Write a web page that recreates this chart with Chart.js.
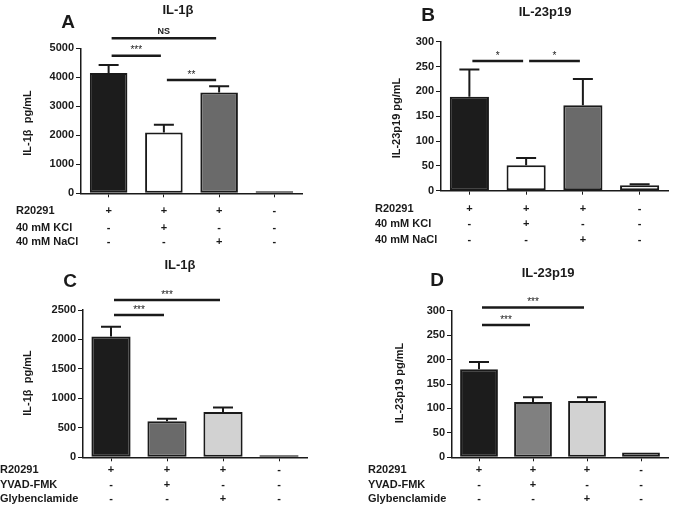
<!DOCTYPE html>
<html><head><meta charset="utf-8">
<script src="https://cdn.jsdelivr.net/npm/chart.js@4/dist/chart.umd.min.js"></script>
<style>
body{margin:0;background:#fff;}
#wrap{position:relative;width:675px;height:515px;overflow:hidden;background:#fff}
#wrap canvas{position:absolute;left:0;top:0}
</style></head><body>
<div id="wrap">
<canvas id="cA" width="675" height="515"></canvas>
<canvas id="cB" width="675" height="515"></canvas>
<canvas id="cC" width="675" height="515"></canvas>
<canvas id="cD" width="675" height="515"></canvas>
</div>
<script>
// ---- data ----
const categories = ['1','2','3','4'];
const rowsAB = ['R20291','40 mM KCl','40 mM NaCl'];
const rowsCD = ['R20291','YVAD-FMK','Glybenclamide'];
const signsR20291 = ['+','+','+','-'];
const signsKCl    = ['-','+','-','-'];
const signsNaCl   = ['-','-','+','-'];
const signsYVAD   = ['-','+','-','-'];
const signsGlyb   = ['-','-','+','-'];

const il1bA = [4150, 2100, 3480, 20];
const semA  = [270, 260, 210, 0];
const il23B = [189, 51, 172, 11];
const semB  = [55, 15, 53, 2];
const il1bC = [2050, 610, 770, 5];
const semC  = [165, 45, 75, 0];
const il23D = [180, 113, 115, 10];
const semD  = [15, 10, 8, 0];

const ticksA = [0,1000,2000,3000,4000,5000];
const ticksB = [0,50,100,150,200,250,300];
const ticksC = [0,500,1000,1500,2000,2500];
const ticksD = [0,50,100,150,200,250,300];

// significance brackets: [from, to, level (value units), label]
const sigA = [[0,2,5345,'NS'],[0,1,4745,'***'],[1,2,3907,'**']];
const sigB = [[0,1,261,'*'],[1,2,261,'*']];
const sigC = [[0,2,2670,'***'],[0,1,2415,'***']];
const sigD = [[0,2,306.7,'***'],[0,1,270.5,'***']];

const FONT = '"Liberation Sans", Arial, Helvetica, sans-serif';
const INK = '#1a1a1a';

function makeChart(id, cfg){
  const area = cfg.area; // {l,t,r,b}
  const yW = 45, xH = 8;
  const plugin = {
    id: 'extras'+id,
    afterDatasetsDraw(chart){
      const ctx = chart.ctx, xs = chart.scales.x, ys = chart.scales.y;
      ctx.save();
      // error bars
      ctx.strokeStyle = INK; ctx.lineWidth = 2;
      cfg.values.forEach((v,i)=>{
        const s = cfg.sem[i]; if(!s) return;
        const x = xs.getPixelForValue(i);
        const y0 = ys.getPixelForValue(v), y1 = ys.getPixelForValue(v+s);
        ctx.beginPath(); ctx.moveTo(x,y0); ctx.lineTo(x,y1);
        ctx.moveTo(x-10,y1); ctx.lineTo(x+10,y1); ctx.stroke();
      });
      // significance
      cfg.sig.forEach(([a,b,lvl,lab])=>{
        const x1 = xs.getPixelForValue(a)+3, x2 = xs.getPixelForValue(b)-3;
        const y = ys.getPixelForValue(lvl);
        ctx.lineWidth = 2.5; ctx.strokeStyle = INK;
        ctx.beginPath(); ctx.moveTo(x1,y); ctx.lineTo(x2,y); ctx.stroke();
        ctx.fillStyle = INK; ctx.textAlign='center'; ctx.textBaseline='bottom';
        ctx.font = (lab==='NS'?'bold 9px ':'10px ')+FONT;
        ctx.fillText(lab,(x1+x2)/2,y-(lab==='NS'?2:0));
      });
      // rows of +/- below axis
      ctx.font = 'bold 11px '+FONT; ctx.textBaseline='middle';
      cfg.rows.forEach((name,r)=>{
        const y = cfg.rowY[r];
        ctx.textAlign='left'; ctx.fillStyle=INK;
        ctx.fillText(name, cfg.rowX, y);
        ctx.textAlign='center';
        cfg.signs[r].forEach((s,i)=>{
          ctx.fillText(s, xs.getPixelForValue(i), y);
        });
      });
      // y title
      ctx.save();
      ctx.translate(cfg.yTitle[1], cfg.yTitle[2]); ctx.rotate(-Math.PI/2);
      ctx.textAlign='center'; ctx.textBaseline='middle';
      ctx.font='bold 11px '+FONT; ctx.fillText(cfg.yTitle[0],0,0);
      ctx.restore();
      // title & letter
      ctx.textAlign='center'; ctx.textBaseline='middle';
      ctx.font='bold 13px '+FONT; ctx.fillText(cfg.title[0],cfg.title[1],cfg.title[2]);
      ctx.font='bold 19px '+FONT; ctx.fillText(cfg.letter[0],cfg.letter[1],cfg.letter[2]);
      ctx.restore();
    }
  };
  return new Chart(document.getElementById(id), {
    type:'bar',
    data:{labels:categories, datasets:[{
      data:cfg.values, backgroundColor:cfg.colors, borderColor:INK,
      borderWidth:2, borderSkipped:false, minBarLength:2,
      barPercentage:cfg.barPct, categoryPercentage:1
    }]},
    options:{
      responsive:false, animation:false, events:[],
      layout:{padding:{left:area.l-yW, top:area.t, right:675-area.r, bottom:515-area.b-xH}},
      plugins:{legend:{display:false}, tooltip:{enabled:false}, title:{display:false}},
      scales:{
        x:{
          afterFit(s){ s.height = xH; },
          grid:{display:true, drawOnChartArea:false, drawTicks:true, tickLength:4, offset:false, color:INK, lineWidth:1},
          border:{display:true, color:INK, width:1.5},
          ticks:{display:false}
        },
        y:{
          min:0, max:cfg.ticks[cfg.ticks.length-1],
          afterFit(s){ s.width = yW; },
          afterBuildTicks(s){ s.ticks = cfg.ticks.map(v=>({value:v})); },
          grid:{display:true, drawOnChartArea:false, drawTicks:true, tickLength:5, color:INK, lineWidth:1},
          border:{display:true, color:INK, width:1.5},
          ticks:{color:INK, padding:2, font:{family:FONT, size:11, weight:'bold'},
                 callback:(v)=>String(v)}
        }
      }
    },
    plugins:[plugin]
  });
}

makeChart('cA',{
  area:{l:81,t:48.3,r:302,b:193.3}, values:il1bA, sem:semA, ticks:ticksA, sig:sigA,
  colors:['#1c1c1c','#ffffff','#6a6a6a','#ffffff'], barPct:0.68,
  rows:rowsAB, signs:[signsR20291,signsKCl,signsNaCl], rowX:16, rowY:[211,228,242],
  yTitle:['IL-1β  pg/mL',28,123], title:['IL-1β',178,10], letter:['A',68,23]
});
makeChart('cB',{
  area:{l:441,t:41.7,r:668,b:190.7}, values:il23B, sem:semB, ticks:ticksB, sig:sigB,
  colors:['#1c1c1c','#ffffff','#6a6a6a','#ffffff'], barPct:0.69,
  rows:rowsAB, signs:[signsR20291,signsKCl,signsNaCl], rowX:375, rowY:[209,224,240],
  yTitle:['IL-23p19 pg/mL',397,118], title:['IL-23p19',545,12], letter:['B',428,16]
});
makeChart('cC',{
  area:{l:83,t:310,r:307,b:457.3}, values:il1bC, sem:semC, ticks:ticksC, sig:sigC,
  colors:['#1c1c1c','#6a6a6a','#d2d2d2','#ffffff'], barPct:0.7,
  rows:rowsCD, signs:[signsR20291,signsYVAD,signsGlyb], rowX:0, rowY:[470,485,499],
  yTitle:['IL-1β  pg/mL',28,383], title:['IL-1β',180,265], letter:['C',70,282]
});
makeChart('cD',{
  area:{l:452,t:310.7,r:668,b:457.3}, values:il23D, sem:semD, ticks:ticksD, sig:sigD,
  colors:['#1c1c1c','#808080','#d2d2d2','#ffffff'], barPct:0.7,
  rows:rowsCD, signs:[signsR20291,signsYVAD,signsGlyb], rowX:368, rowY:[470,485,499],
  yTitle:['IL-23p19 pg/mL',400,383], title:['IL-23p19',548,273], letter:['D',437,281]
});
</script>
</body></html>
